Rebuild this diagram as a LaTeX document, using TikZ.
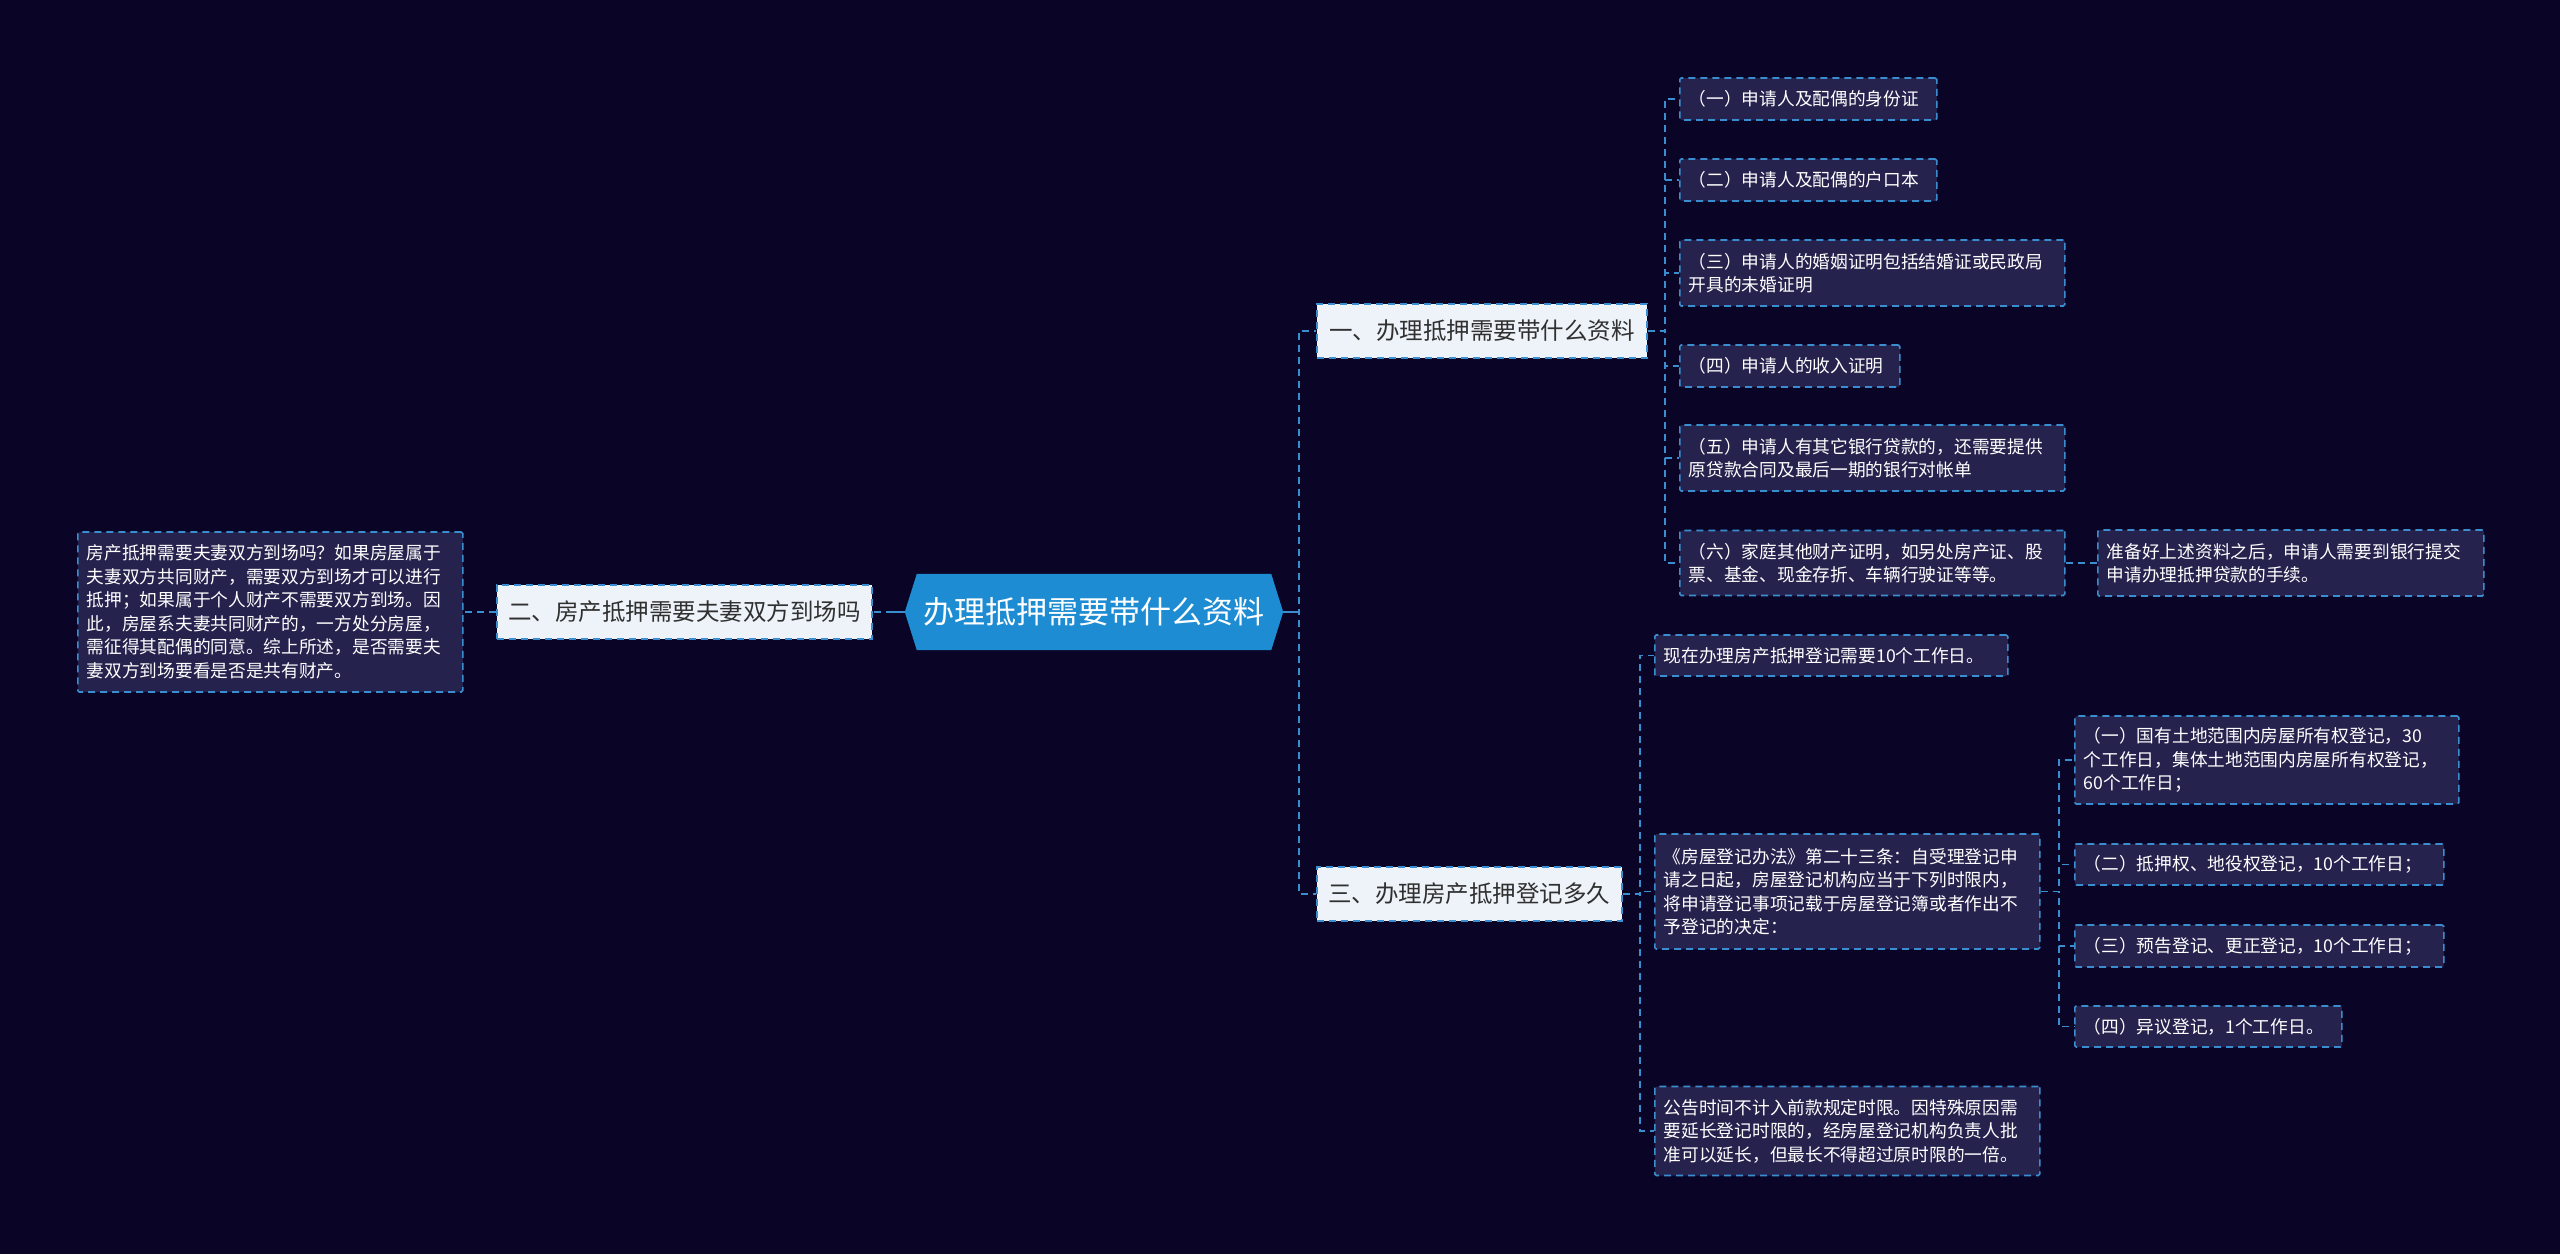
\documentclass[tikz,border=0pt]{standalone}
\usepackage{fontspec}
\newfontfamily\cjk{Noto Sans CJK SC}
\usetikzlibrary{calc}
\definecolor{bgc}{RGB}{10,5,38}
\definecolor{leaffill}{RGB}{38,34,78}
\definecolor{lineblue}{RGB}{58,142,208}
\definecolor{lonefill}{RGB}{238,243,250}
\definecolor{lonetext}{RGB}{48,48,48}
\definecolor{centerfill}{RGB}{30,140,210}
\pgfdeclarelayer{bglayer}
\pgfdeclarelayer{backlayer}
\pgfsetlayers{bglayer,backlayer,main}
\tikzset{
  leafbox/.style={draw=lineblue, line width=1.6pt, dash pattern=on 7pt off 5pt,
    fill=leaffill, text=white, font=\cjk\fontsize{17.7}{23.5}\selectfont,
    align=left, inner xsep=9pt, inner ysep=0pt, anchor=west, rounded corners=1.5pt},
  lonebox/.style={draw=lineblue, line width=1.6pt, dash pattern=on 7pt off 5pt,
    fill=lonefill, text=lonetext, font=\cjk\fontsize{23.5}{28}\selectfont,
    inner sep=0pt, anchor=west, minimum height=54pt},
  conn/.style={draw=lineblue, line width=1.8pt, dash pattern=on 7pt off 5pt},
  solidc/.style={draw=lineblue, line width=1.8pt}
}
\begin{document}
\begin{tikzpicture}[x=1pt,y=-1pt]
\useasboundingbox (0,0) rectangle (2560,1254);
\begin{pgfonlayer}{bglayer}
\fill[bgc] (0,0) rectangle (2560,1254);
\end{pgfonlayer}

% central node
\node[inner sep=0pt, minimum width=378pt, minimum height=76pt, text=white,
      font=\cjk\fontsize{31}{36}\selectfont] (c) at (1094,612) {办理抵押需要带什么资料};
\begin{pgfonlayer}{backlayer}
\fill[centerfill] (c.west) -- ([xshift=12pt]c.north west) -- ([xshift=-12pt]c.north east)
  -- (c.east) -- ([xshift=-12pt]c.south east) -- ([xshift=12pt]c.south west) -- cycle;
\end{pgfonlayer}

% level 1
\node[lonebox, minimum width=330pt] (b1) at (1316,331) {一、办理抵押需要带什么资料};
\node[lonebox, minimum width=375pt] (b2) at (496,612) {二、房产抵押需要夫妻双方到场吗};
\node[lonebox, minimum width=305pt] (b3) at (1316,894) {三、办理房产抵押登记多久};

% left detail
\node[leafbox, minimum width=385pt, text width=367pt, minimum height=160pt] (L) at (77,612)
 {房产抵押需要夫妻双方到场吗？如果房屋属于\\夫妻双方共同财产，需要双方到场才可以进行\\抵押；如果属于个人财产不需要双方到场。因\\此，房屋系夫妻共同财产的，一方处分房屋，\\需征得其配偶的同意。综上所述，是否需要夫\\妻双方到场要看是否是共有财产。};

% branch 1 leaves
\node[leafbox, minimum width=257pt, text width=239pt, minimum height=42pt] (l1) at (1679,99) {（一）申请人及配偶的身份证};
\node[leafbox, minimum width=257pt, text width=239pt, minimum height=42pt] (l2) at (1679,180) {（二）申请人及配偶的户口本};
\node[leafbox, minimum width=385pt, text width=367pt, minimum height=66pt] (l3) at (1679,273) {（三）申请人的婚姻证明包括结婚证或民政局\\开具的未婚证明};
\node[leafbox, minimum width=220pt, text width=202pt, minimum height=42pt] (l4) at (1679,366) {（四）申请人的收入证明};
\node[leafbox, minimum width=385pt, text width=367pt, minimum height=66pt] (l5) at (1679,458) {（五）申请人有其它银行贷款的，还需要提供\\原贷款合同及最后一期的银行对帐单};
\node[leafbox, minimum width=385pt, text width=367pt, minimum height=65pt] (l6) at (1679,563) {（六）家庭其他财产证明，如另处房产证、股\\票、基金、现金存折、车辆行驶证等等。};
\node[leafbox, minimum width=386pt, text width=368pt, minimum height=66pt] (l7) at (2097,563) {准备好上述资料之后，申请人需要到银行提交\\申请办理抵押贷款的手续。};

% branch 3 leaves
\node[leafbox, minimum width=353pt, text width=335pt, minimum height=41pt] (m1) at (1654,655.5) {现在办理房产抵押登记需要10个工作日。};
\node[leafbox, minimum width=385pt, text width=367pt, minimum height=115pt] (m2) at (1654,891.5) {《房屋登记办法》第二十三条：自受理登记申\\请之日起，房屋登记机构应当于下列时限内，\\将申请登记事项记载于房屋登记簿或者作出不\\予登记的决定：};
\node[leafbox, minimum width=385pt, text width=367pt, minimum height=89pt] (m3) at (1654,1131) {公告时间不计入前款规定时限。因特殊原因需\\要延长登记时限的，经房屋登记机构负责人批\\准可以延长，但最长不得超过原时限的一倍。};

\node[leafbox, minimum width=384pt, text width=366pt, minimum height=88pt] (n1) at (2074,760) {（一）国有土地范围内房屋所有权登记，30\\个工作日，集体土地范围内房屋所有权登记，\\60个工作日；};
\node[leafbox, minimum width=369pt, text width=351pt, minimum height=41pt] (n2) at (2074,864.5) {（二）抵押权、地役权登记，10个工作日；};
\node[leafbox, minimum width=369pt, text width=351pt, minimum height=42pt] (n3) at (2074,946) {（三）预告登记、更正登记，10个工作日；};
\node[leafbox, minimum width=267pt, text width=249pt, minimum height=41pt] (n4) at (2074,1026.5) {（四）异议登记，1个工作日。};

% connectors
\draw[conn] (c.east) -- ++(16,0) |- (b1.west);
\draw[conn] (c.east) -- ++(16,0) |- (b3.west);
\draw[solidc] (c.east) -- ++(14,0);
\draw[conn] (c.west) -- (b2.east);
\draw[solidc] (c.west) -- ++(-16,0);
\draw[conn] (b2.west) -- (L.east);
\foreach \t in {l1,l2,l3,l4,l5,l6} {\draw[conn] (b1.east) -- ++(17,0) |- (\t.west);}
\draw[conn] (l6.east) -- (l7.west);
\foreach \t in {m1,m2,m3} {\draw[conn] (b3.east) -- ++(17,0) |- (\t.west);}
\foreach \t in {n1,n2,n3,n4} {\draw[conn] (m2.east) -- ++(18,0) |- (\t.west);}
\end{tikzpicture}
\end{document}
